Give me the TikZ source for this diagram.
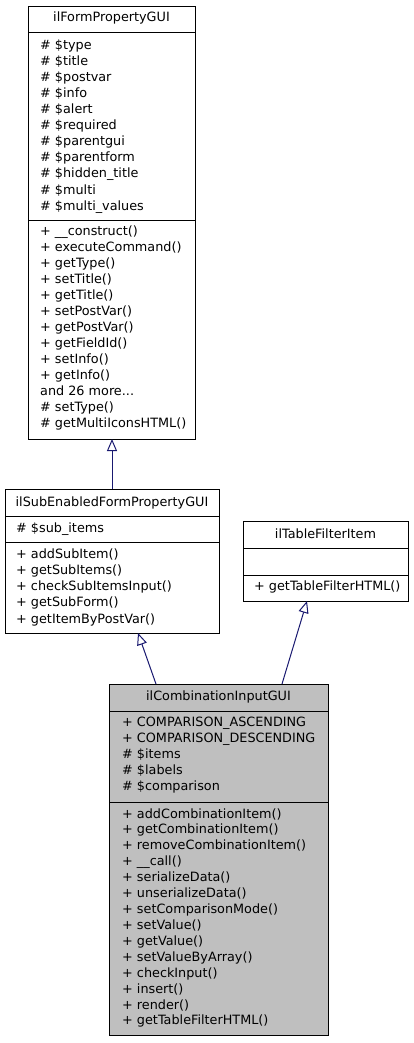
\documentclass[tikz,border=0pt]{standalone}
\usepackage{fontspec}
\setmainfont{DejaVu Sans}
\usetikzlibrary{arrows.meta}
\definecolor{midnight}{RGB}{25,25,112}
\newcommand\mymoretxt{and 26 more...}
\begin{document}
\begin{tikzpicture}[x=1pt,y=-1pt,
  box/.style={draw=black, line width=1pt, fill=white, inner sep=0pt, anchor=north west},
  graybox/.style={box, fill=black!25},
  sep/.style={draw=black, line width=1pt},
  txt/.style={anchor=west, inner sep=0pt, text height=9pt, text depth=3pt, font=\fontsize{12.8}{16}\selectfont},
  ttl/.style={anchor=center, inner sep=0pt, text height=9pt, text depth=3pt, font=\fontsize{12.8}{16}\selectfont},
  inh/.style={draw=midnight, line width=1pt, -{Triangle[open, length=12pt, width=10pt, fill=white]}}
]
\useasboundingbox (0,0) rectangle (413,1043);

% ---- ilFormPropertyGUI ----
\node[box, minimum width=167pt, minimum height=433pt] (b1) at (28,6) {};
\draw[sep] (28,33) -- (195,33);
\draw[sep] (28,220) -- (195,220);
\node[ttl] (b1t) at (111.5,19) {ilFormPropertyGUI};
\foreach \t [count=\i] in {\# \$type,\# \$title,\# \$postvar,\# \$info,\# \$alert,\# \$required,\# \$parentgui,\# \$parentform,\# \$hidden\_title,\# \$multi,\# \$multi\_values}
  \node[txt] (b1a\i) at (40,{47+16*(\i-1)}) {\t};
\foreach \t [count=\i] in {+ \_\_construct(),+ executeCommand(),+ getType(),+ setTitle(),+ getTitle(),+ setPostVar(),+ getPostVar(),+ getFieldId(),+ setInfo(),+ getInfo(),\mymoretxt,\# setType(),\# getMultiIconsHTML()}
  \node[txt] (b1m\i) at (40,{232+16.08*(\i-1)}) {\t};

% ---- ilSubEnabledFormPropertyGUI ----
\node[box, minimum width=214pt, minimum height=144pt] (b2) at (5,489) {};
\draw[sep] (5,516) -- (219,516);
\draw[sep] (5,542) -- (219,542);
\node[ttl] (b2t) at (112,503) {ilSubEnabledFormPropertyGUI};
\node[txt] (b2a1) at (16,529) {\# \$sub\_items};
\foreach \t [count=\i] in {+ addSubItem(),+ getSubItems(),+ checkSubItemsInput(),+ getSubForm(),+ getItemByPostVar()}
  \node[txt] (b2m\i) at (16,{555+16.25*(\i-1)}) {\t};

% ---- ilTableFilterItem ----
\node[box, minimum width=165pt, minimum height=80pt] (b3) at (243,521) {};
\draw[sep] (243,548) -- (408,548);
\draw[sep] (243,575) -- (408,575);
\node[ttl] (b3t) at (325.5,535) {ilTableFilterItem};
\node[txt] (b3m1) at (254,587) {+ getTableFilterHTML()};

% ---- ilCombinationInputGUI ----
\node[graybox, minimum width=219pt, minimum height=351pt] (b4) at (109,684) {};
\draw[sep] (109,711) -- (328,711);
\draw[sep] (109,802) -- (328,802);
\node[ttl] (b4t) at (218.5,697) {ilCombinationInputGUI};
\foreach \t [count=\i] in {+ COMPARISON\_ASCENDING,+ COMPARISON\_DESCENDING,\# \$items,\# \$labels,\# \$comparison}
  \node[txt] (b4a\i) at (122,{723+16*(\i-1)}) {\t};
\foreach \t [count=\i] in {+ addCombinationItem(),+ getCombinationItem(),+ removeCombinationItem(),+ \_\_call(),+ serializeData(),+ unserializeData(),+ setComparisonMode(),+ setValue(),+ getValue(),+ setValueByArray(),+ checkInput(),+ insert(),+ render(),+ getTableFilterHTML()}
  \node[txt] (b4m\i) at (122,{815+15.92*(\i-1)}) {\t};

% ---- connectors ----
\coordinate (c21) at (112,489);
\coordinate (c12) at (112,439);
\coordinate (c42) at (156,684);
\coordinate (c24) at (138,633);
\coordinate (c43) at (282,684);
\coordinate (c34) at (307,601);
\draw[inh] (c21) -- (c12);
\draw[inh] (c42) -- (c24);
\draw[inh] (c43) -- (c34);
\end{tikzpicture}
\end{document}
